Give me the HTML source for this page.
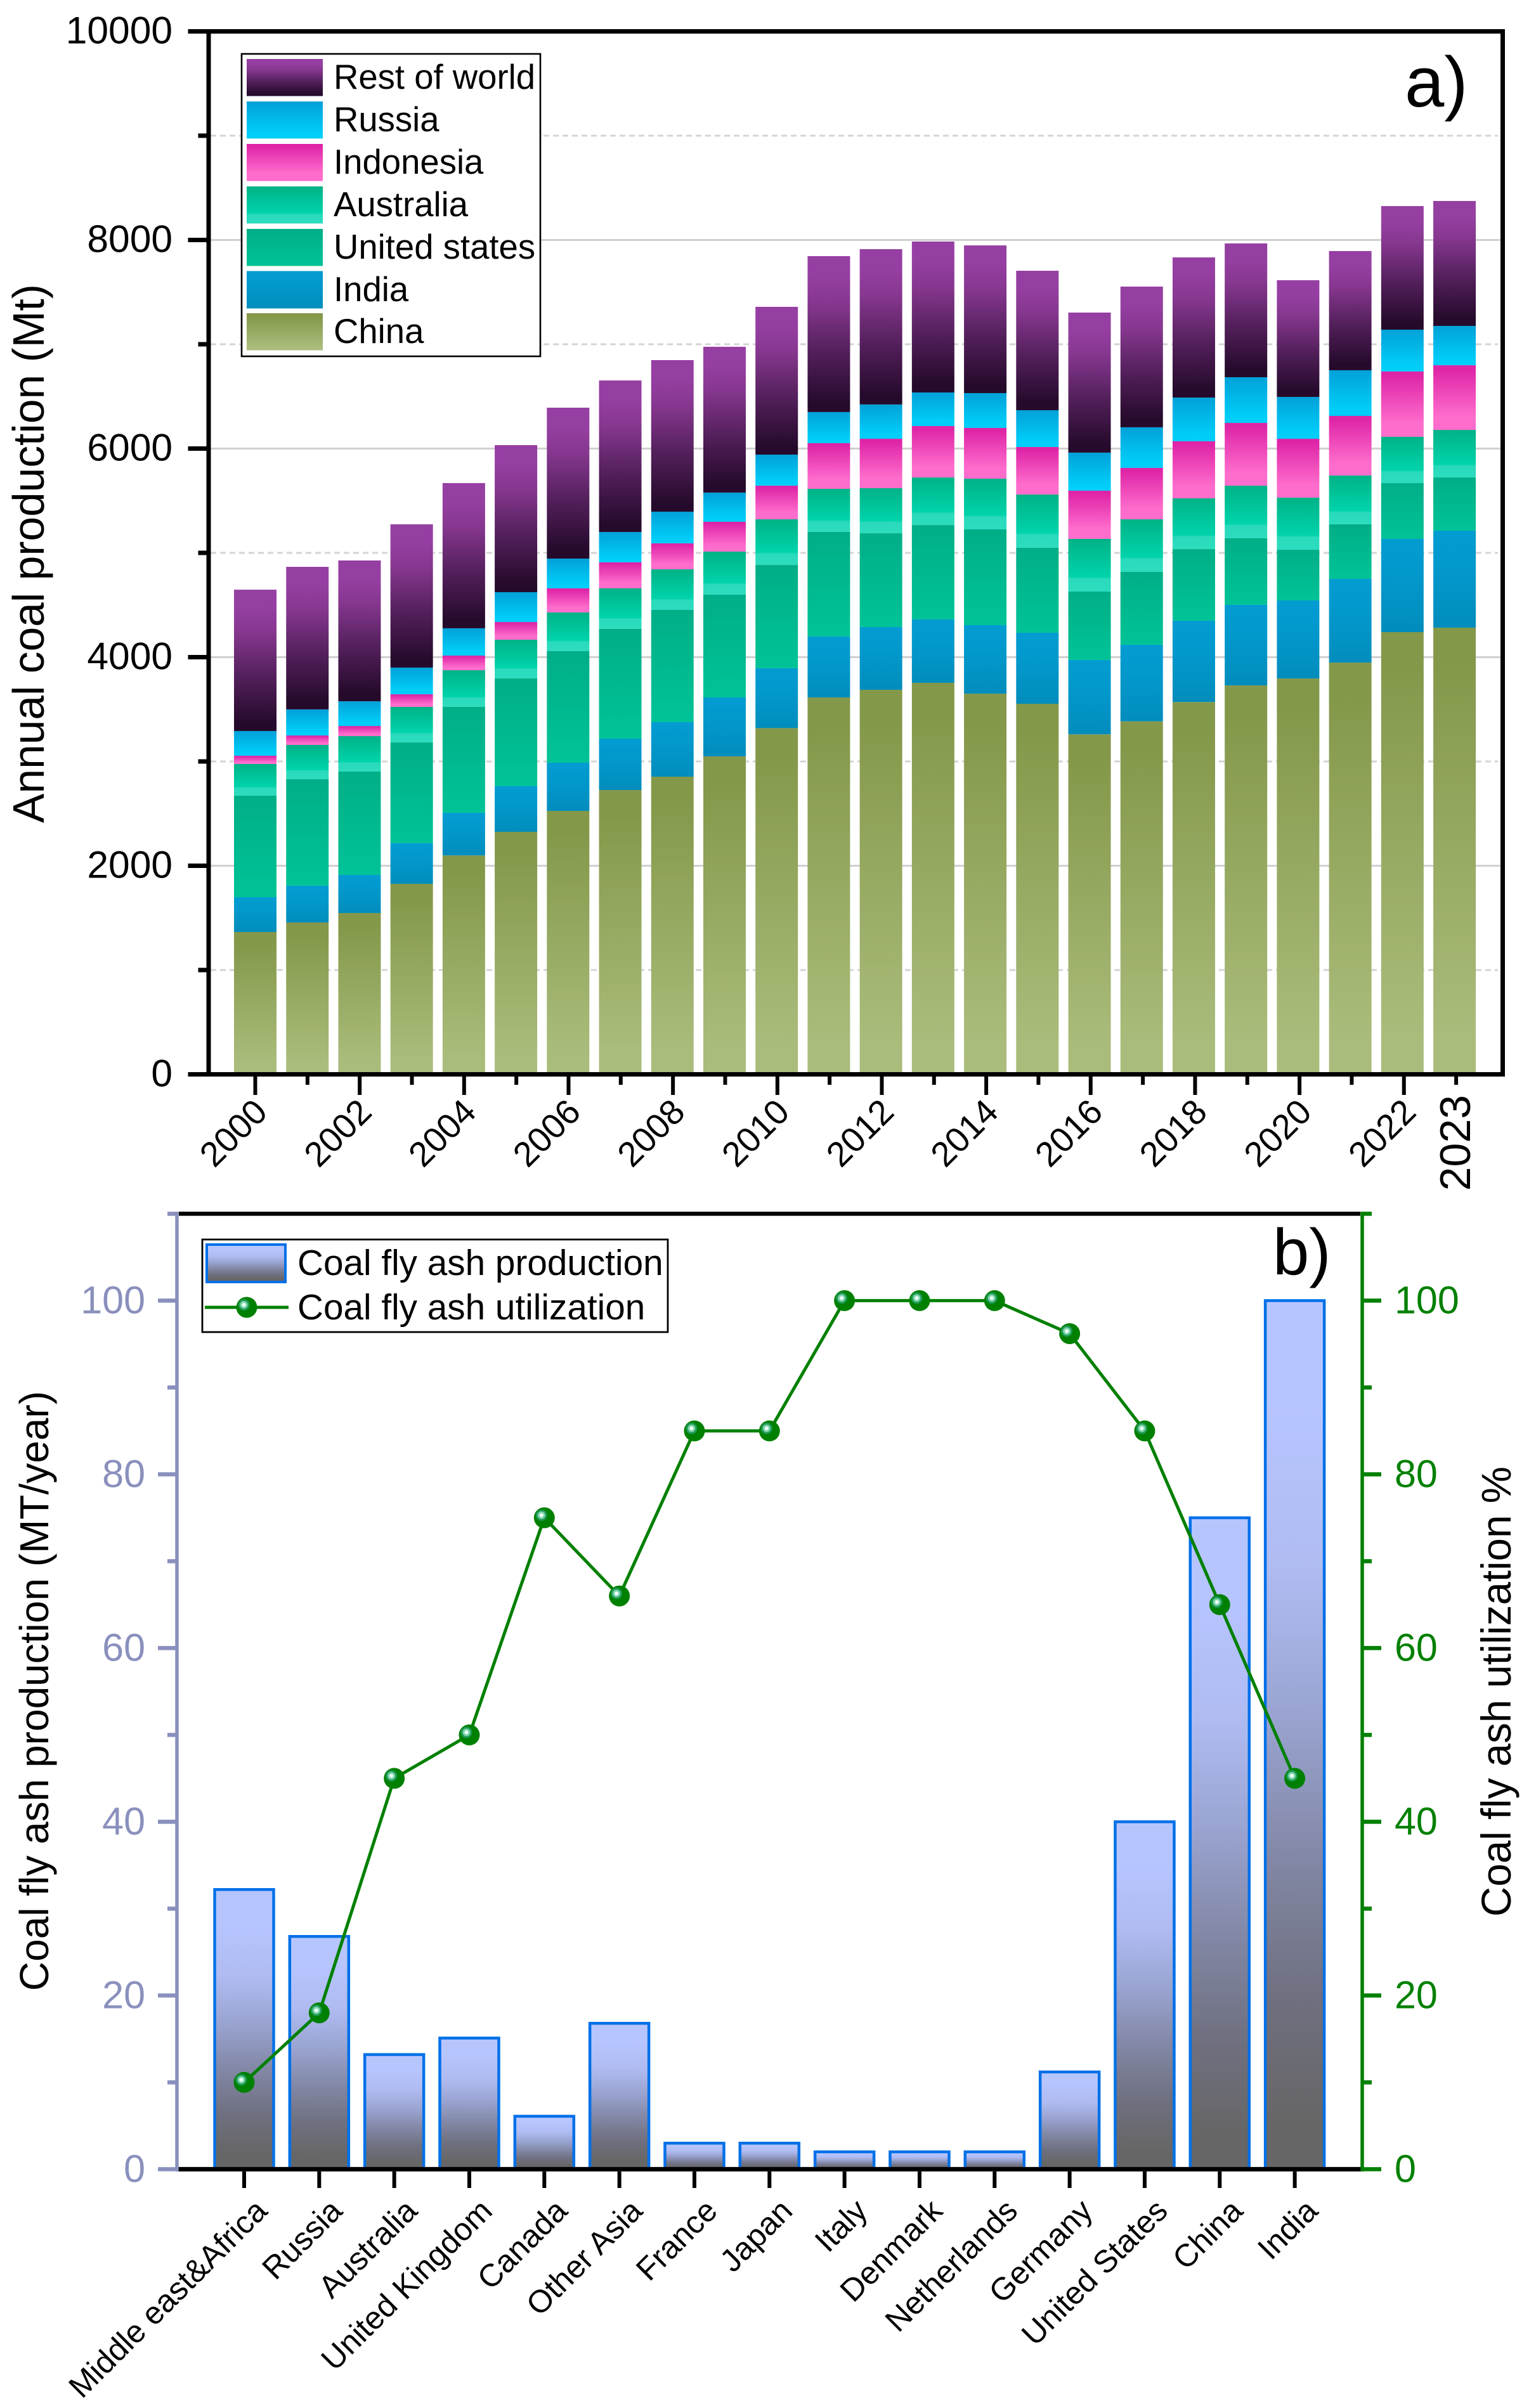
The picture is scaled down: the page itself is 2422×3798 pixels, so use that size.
<!DOCTYPE html>
<html lang="en">
<head>
<meta charset="utf-8">
<title>Coal production and coal fly ash</title>
<style>
html,body{margin:0;padding:0;background:#fff;}
svg{display:block;font-family:"Liberation Sans",Arial,sans-serif;}
</style>
</head>
<body>
<svg id="chart" xmlns="http://www.w3.org/2000/svg" width="2422" height="3798" viewBox="0 0 2422 3798">
<defs>
<linearGradient id="g-china" x1="0" y1="0" x2="0" y2="1"><stop offset="0.08" stop-color="#84984a"/><stop offset="0.92" stop-color="#aabc7b"/></linearGradient>
<linearGradient id="g-india" x1="0" y1="0" x2="0" y2="1"><stop offset="0" stop-color="#039cd1"/><stop offset="0.35" stop-color="#0299cd"/><stop offset="1" stop-color="#018dbc"/></linearGradient>
<linearGradient id="g-us" x1="0" y1="0" x2="0" y2="1"><stop offset="0" stop-color="#00ae87"/><stop offset="1" stop-color="#00c397"/></linearGradient>
<linearGradient id="g-aus" x1="0" y1="0" x2="0" y2="1"><stop offset="0" stop-color="#00b286"/><stop offset="0.72" stop-color="#00d3ab"/><stop offset="0.76" stop-color="#2adabb"/><stop offset="1" stop-color="#2cdcbe"/></linearGradient>
<linearGradient id="g-indo" x1="0" y1="0" x2="0" y2="1"><stop offset="0.05" stop-color="#de24a7"/><stop offset="0.8" stop-color="#fe6dcc"/></linearGradient>
<linearGradient id="g-russia" x1="0" y1="0" x2="0" y2="1"><stop offset="0" stop-color="#02a1d8"/><stop offset="0.85" stop-color="#00cdf8"/></linearGradient>
<linearGradient id="g-rest" x1="0" y1="0" x2="0" y2="1"><stop offset="0.12" stop-color="#963fa3"/><stop offset="0.3" stop-color="#86378f"/><stop offset="0.62" stop-color="#521f5a"/><stop offset="0.95" stop-color="#250a2b"/></linearGradient>
<linearGradient id="g-ash" x1="0" y1="0" x2="0" y2="1"><stop offset="0.12" stop-color="#b7c5ff"/><stop offset="0.31" stop-color="#afbbf1"/><stop offset="0.47" stop-color="#9ba5d3"/><stop offset="0.64" stop-color="#8288a6"/><stop offset="0.8" stop-color="#6f7080"/><stop offset="0.95" stop-color="#666666"/></linearGradient>
</defs>
<g id="grid-a"></g>
<g id="bars-a"></g>
<g id="axes-a"></g>
<g id="bars-b"></g>
<g id="axes-b"></g>
<g id="line-b"></g>

<text transform="translate(69,873) rotate(-90)" text-anchor="middle" font-size="69.5">Annual coal production (Mt)</text>
<text x="2215" y="168" font-size="112">a)</text>

<g>
<rect x="381" y="85" width="471" height="477" fill="#fff" stroke="#000" stroke-width="2.6"/>
<g><rect x="389" y="93" width="120" height="58.5" fill="url(#g-rest)"/><text x="526" y="140" font-size="54.5">Rest of world</text></g>
<g><rect x="389" y="160" width="120" height="58.5" fill="url(#g-russia)"/><text x="526" y="207" font-size="54.5">Russia</text></g>
<g><rect x="389" y="227" width="120" height="58.5" fill="url(#g-indo)"/><text x="526" y="274" font-size="54.5">Indonesia</text></g>
<g><rect x="389" y="294" width="120" height="58.5" fill="url(#g-aus)"/><text x="526" y="341" font-size="54.5">Australia</text></g>
<g><rect x="389" y="361" width="120" height="58.5" fill="url(#g-us)"/><text x="526" y="408" font-size="54.5">United states</text></g>
<g><rect x="389" y="427.5" width="120" height="59" fill="url(#g-india)"/><text x="526" y="475" font-size="54.5">India</text></g>
<g><rect x="389" y="494" width="120" height="58.5" fill="url(#g-china)"/><text x="526" y="541" font-size="54.5">China</text></g>
</g>

<text transform="translate(76,2667) rotate(-90)" text-anchor="middle" font-size="64">Coal fly ash production (MT/year)</text>
<text transform="translate(2382,2668) rotate(-90)" text-anchor="middle" font-size="65.5">Coal fly ash utilization %</text>
<text x="2007" y="2010" font-size="103">b)</text>

<g>
<rect x="319" y="1955" width="734" height="146" fill="#fff" stroke="#000" stroke-width="2.8"/>
<g><rect x="326" y="1963" width="124" height="59" fill="url(#g-ash)" stroke="#0070e8" stroke-width="4"/><text x="469" y="2011" font-size="56.7">Coal fly ash production</text></g>
<g><line x1="323" y1="2062" x2="455" y2="2062" stroke="#008000" stroke-width="5"/><circle cx="389" cy="2062" r="16.5" fill="#008000"/><circle cx="384.5" cy="2058" r="9" fill="#1f9a55"/><circle cx="384.5" cy="2058" r="6" fill="#7fd6ac"/><circle cx="384.5" cy="2058" r="3" fill="#f0fff8"/><text x="469" y="2081" font-size="56.7">Coal fly ash utilization</text></g>
</g>
</svg>
<script>
// Panel a data (Mt)
const years = [2000,2001,2002,2003,2004,2005,2006,2007,2008,2009,2010,2011,2012,2013,2014,2015,2016,2017,2018,2019,2020,2021,2022,2023];
const china = [1365,1456,1547,1827,2099,2325,2526,2726,2854,3049,3320,3614,3687,3754,3650,3553,3260,3385,3570,3729,3796,3948,4240,4283];
const india = [334,353,365,391,409,438,462,493,523,565,574,584,602,608,657,681,713,734,780,773,748,803,894,930];
const unitedStates = [973,1021,991,964,1015,1033,1070,1052,1076,985,990,1003,899,905,918,815,656,699,686,638,486,523,535,510];
const australia = [304,328,340,341,352,371,371,389,389,413,438,413,432,456,486,510,505,504,487,504,499,468,444,456];
const indonesia = [79,91,97,121,140,170,231,249,249,286,322,438,474,493,487,456,462,493,547,602,565,571,626,620];
const russia = [237,250,237,256,262,286,285,291,304,280,298,298,329,322,334,353,365,389,419,438,401,438,401,377];
const restOfWorld = [1355,1367,1350,1374,1392,1410,1447,1453,1453,1398,1417,1495,1489,1447,1416,1337,1343,1349,1344,1283,1119,1143,1185,1198];
const yTicksA = [0,1000,2000,3000,4000,5000,6000,7000,8000,9000,10000];
const yLabelsA = [0,2000,4000,6000,8000,10000];
const xLabelsA = [2000,2002,2004,2006,2008,2010,2012,2014,2016,2018,2020,2022];

// Panel b data
const countries = ["Middle east&Africa","Russia","Australia","United Kingdom","Canada","Other Asia","France","Japan","Italy","Denmark","Netherlands","Germany","United States","China","India"];
const ashProduction = [32.2,26.8,13.2,15.1,6.1,16.8,3,3,2,2,2,11.2,40,75,100];
const ashUtilization = [10,18,45,50,75,66,85,85,100,100,100,96.2,85,65,45];
const yTicksB = [0,10,20,30,40,50,60,70,80,90,100,110];
const yLabelsB = [0,20,40,60,80,100];

const NS = 'http://www.w3.org/2000/svg';
function make(tag, attrs, parent, txt) {
  const el = document.createElementNS(NS, tag);
  for (const k in attrs) el.setAttribute(k, attrs[k]);
  if (txt !== undefined) el.textContent = txt;
  parent.appendChild(el);
  return el;
}
const xBarA = i => 402.5 + 82.22 * i;
const xTickA = i => 402.5 + 82.33 * i;
const yA = v => 1694.5 - v * 0.1645;
const xB = i => 385 + 118.33 * i;
const yB = v => 3421.4 - v * 13.7;

const gridA = document.getElementById('grid-a');
const barsA = document.getElementById('bars-a');
const axesA = document.getElementById('axes-a');
const barsB = document.getElementById('bars-b');
const axesB = document.getElementById('axes-b');
const lineB = document.getElementById('line-b');

// Panel a gridlines
yTicksA.forEach(v => {
  if (v === 0 || v === 10000) return;
  const major = v % 2000 === 0;
  const el = make('line', {x1: 332, x2: major ? 2366 : 2362, y1: yA(v), y2: yA(v), stroke: major ? '#d0d0d0' : '#d4d4d4', 'stroke-width': 3, 'stroke-dasharray': major ? 'none' : '9 6'}, gridA);
  
  
});

// Panel a stacked bars
const stackNames = ['china','india','united-states','australia','indonesia','russia','rest-of-world'];
const stackSeries = [china, india, unitedStates, australia, indonesia, russia, restOfWorld];
const stackFills = ['g-china','g-india','g-us','g-aus','g-indo','g-russia','g-rest'];
years.forEach((yr, i) => {
  let base = 0;
  stackSeries.forEach((s, k) => {
    const top = base + s[i];
    const el = make('rect', {x: xBarA(i) - 33.5, width: 67, y: yA(top), height: yA(base) - yA(top), fill: 'url(#' + stackFills[k] + ')'}, barsA);
    
    
    base = top;
  });
});

// Panel a axes
const frameA = [[296.5,49.5,2373,49.5],[296.5,1694.5,2373,1694.5],[329,46,329,1698],[2369.5,46,2369.5,1698]];
const frameANames = ['top-axis-line','bottom-axis-line','left-axis-line','right-axis-line'];
frameA.forEach((c, k) => {
  const el = make('line', {x1: c[0], y1: c[1], x2: c[2], y2: c[3], stroke: '#000', 'stroke-width': 7}, axesA);
  
  
});
yTicksA.forEach(v => {
  const major = v % 2000 === 0;
  const el = make('line', {x1: major ? 296.5 : 312.5, x2: 329, y1: yA(v), y2: yA(v), stroke: '#000', 'stroke-width': 7}, axesA);
  
  
});
yLabelsA.forEach(v => {
  const el = make('text', {x: 272, y: yA(v) + 19, 'text-anchor': 'end', 'font-size': 60.5}, axesA, String(v));
  
  
});
years.forEach((yr, i) => {
  const major = yr % 2 === 0;
  const el = make('line', {x1: xTickA(i), x2: xTickA(i), y1: 1698, y2: major ? 1727 : 1711, stroke: '#000', 'stroke-width': 6}, axesA);
  
  
});
xLabelsA.forEach(yr => {
  const i = years.indexOf(yr);
  const px = xTickA(i) + 22;
  const el = make('text', {transform: 'translate(' + px + ',1757) rotate(-45)', 'text-anchor': 'end', 'font-size': 55}, axesA, String(yr));
  
  
});
const lastYear = years[years.length - 1];
const lastLabel = make('text', {transform: 'translate(' + (xTickA(years.length - 1) + 22) + ',1727) rotate(-90)', 'text-anchor': 'end', 'font-size': 68}, axesA, String(lastYear));



// Panel b bars
countries.forEach((c, i) => {
  const el = make('rect', {x: xB(i) - 46.5, width: 93, y: yB(ashProduction[i]), height: yB(0) - yB(ashProduction[i]), fill: 'url(#g-ash)', stroke: '#0070e8', 'stroke-width': 4.5}, barsB);
  
  
});

// Panel b axes
const topB = make('line', {x1: 282, x2: 2145, y1: yB(110), y2: yB(110), stroke: '#000', 'stroke-width': 6.5}, axesB);


const bottomB = make('line', {x1: 279, x2: 2148, y1: yB(0), y2: yB(0), stroke: '#000', 'stroke-width': 7}, axesB);


const leftB = make('line', {x1: 279, x2: 279, y1: yB(110) - 3.3, y2: yB(0) + 3.5, stroke: '#8a90bd', 'stroke-width': 5.5}, axesB);


const rightB = make('line', {x1: 2148, x2: 2148, y1: yB(110) - 3.3, y2: yB(0) + 3.5, stroke: '#008000', 'stroke-width': 5.5}, axesB);


yTicksB.forEach(v => {
  const major = v % 20 === 0;
  const l = make('line', {x1: major ? 249 : 264, x2: 279, y1: yB(v), y2: yB(v), stroke: '#8a90bd', 'stroke-width': 6.5}, axesB);
  
  
  const r = make('line', {x1: 2148, x2: major ? 2178 : 2163, y1: yB(v), y2: yB(v), stroke: '#008000', 'stroke-width': 6.5}, axesB);
  
  
});
yLabelsB.forEach(v => {
  const l = make('text', {x: 229, y: yB(v) + 20, 'text-anchor': 'end', 'font-size': 61, fill: '#8a90bd'}, axesB, String(v));
  
  
  const r = make('text', {x: 2199, y: yB(v) + 20, 'font-size': 61, fill: '#008000'}, axesB, String(v));
  
  
});
countries.forEach((c, i) => {
  const slug = c.toLowerCase().replace(/[^a-z]+/g, '-');
  const t = make('line', {x1: xB(i), x2: xB(i), y1: 3425, y2: 3451, stroke: '#000', 'stroke-width': 6}, axesB);
  
  
  const lab = make('text', {transform: 'translate(' + (xB(i) + 39) + ',3490) rotate(-45)', 'text-anchor': 'end', 'font-size': 50}, axesB, c);
  
  
});

// Panel b utilization line and markers
const pts = ashUtilization.map((v, i) => xB(i) + ',' + yB(v)).join(' ');
const poly = make('polyline', {points: pts, fill: 'none', stroke: '#008000', 'stroke-width': 5}, lineB);


ashUtilization.forEach((v, i) => {
  const slug = countries[i].toLowerCase().replace(/[^a-z]+/g, '-');
  const g = make('g', {}, lineB);
  
  
  const a = make('circle', {cx: xB(i), cy: yB(v), r: 16.5, fill: '#008000'}, g);
  
  
  const b = make('circle', {cx: xB(i) - 4.5, cy: yB(v) - 4, r: 9, fill: '#1f9a55'}, g);
  
  
  const d = make('circle', {cx: xB(i) - 4.5, cy: yB(v) - 4, r: 6, fill: '#7fd6ac'}, g);
  
  
  const e = make('circle', {cx: xB(i) - 4.5, cy: yB(v) - 4, r: 3, fill: '#f0fff8'}, g);
  
  
});
</script>
</body>
</html>
